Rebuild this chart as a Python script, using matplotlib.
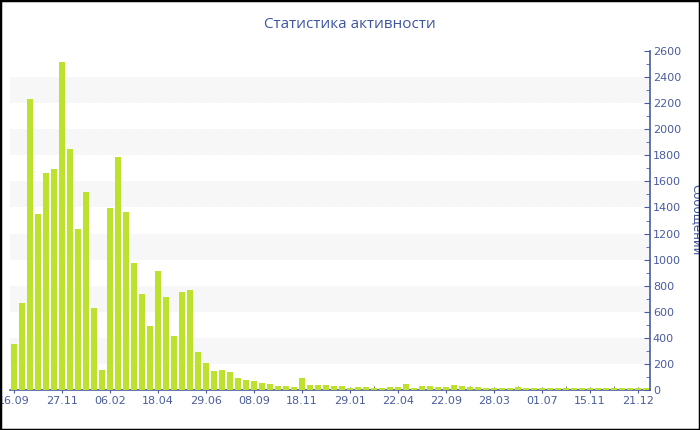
import matplotlib
matplotlib.use("Agg")
import matplotlib.pyplot as plt
import numpy as np
from matplotlib.patches import Rectangle
from matplotlib.ticker import MultipleLocator

values = [353, 667, 2229, 1350, 1664, 1694, 2513, 1850, 1235, 1521,
          631, 151, 1393, 1785, 1367, 971, 736, 493, 915, 711,
          417, 749, 767, 294, 204, 146, 156, 138, 95, 79,
          72, 56, 44, 33, 28, 23, 90, 36, 36, 36,
          28, 28, 18, 26, 20, 15, 18, 26, 26, 46,
          15, 28, 28, 23, 23, 38, 33, 20, 20, 18,
          15, 14, 13, 25, 13, 13, 13, 13, 14, 15,
          15, 13, 14, 13, 13, 13, 13, 13, 12, 12]
tick_labels = ["16.09", "27.11", "06.02", "18.04", "29.06", "08.09", "18.11",
               "29.01", "22.04", "22.09", "28.03", "01.07", "15.11", "21.12"]
tick_step = 6
title = "Статистика активности"
ylabel = "Сообщений"

blue = "#4a5c9e"
fig = plt.figure(figsize=(7, 4.3), dpi=100)
ax = fig.add_axes([10/700, 40/430, 640/700, 339/430])

x = np.arange(len(values))
ax.set_xlim(-0.5, len(values) - 0.5)
ax.set_ylim(0, 2600)

for lo in range(200, 2600, 400):
    ax.axhspan(lo, lo + 200, color="#f7f7f7", lw=0, zorder=0)
for xv in np.arange(0.5, len(values), 2):
    ax.axvline(xv, color="#fcfcfc", lw=0.5, ls=(0, (3, 3)), zorder=0.5)

ax.bar(x, values, width=0.72, color="#bde22e", zorder=3)

for s in ["left", "top"]:
    ax.spines[s].set_visible(False)
for s in ["right", "bottom"]:
    ax.spines[s].set_color(blue)
    ax.spines[s].set_linewidth(1.2)
    ax.spines[s].set_zorder(2)

ax.yaxis.tick_right()
ax.set_yticks(np.arange(0, 2601, 200))
ax.yaxis.set_minor_locator(MultipleLocator(100))
ax.tick_params(axis="y", which="major", direction="in", length=4, color=blue,
               labelcolor=blue, labelsize=8, pad=2)
ax.tick_params(axis="y", which="minor", direction="in", length=3, color=blue)

ax.set_xticks(x[::tick_step])
ax.set_xticklabels(tick_labels)
ax.xaxis.set_minor_locator(MultipleLocator(3))
ax.tick_params(axis="x", which="major", direction="inout", length=5, color=blue,
               labelcolor=blue, labelsize=8, pad=2)
ax.tick_params(axis="x", which="minor", direction="in", length=3, color="#555555")

fig.text(0.5, 1 - 25/430, title, ha="center", va="center", color="#3d55a0",
         fontsize=11, family="Open Sans")
fig.text(697/700, 1 - 220/430, ylabel, ha="center", va="center", rotation=-90,
         color="#3d55a0", fontsize=8.5)

fig.patches.append(Rectangle((0, 0), 1, 1, transform=fig.transFigure, fill=False,
                             edgecolor="black", lw=2.5, zorder=10))

fig.savefig("out.png", dpi=100)
